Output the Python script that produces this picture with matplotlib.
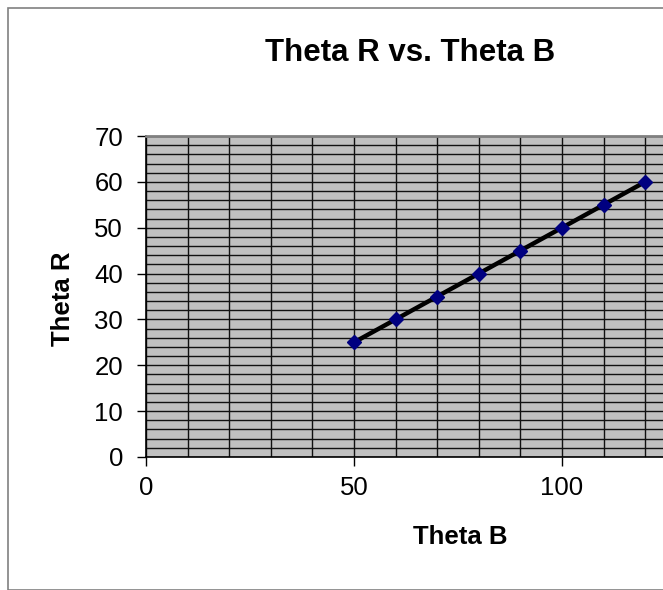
import matplotlib
matplotlib.use("Agg")
import matplotlib.pyplot as plt
from matplotlib.patches import Rectangle
import numpy as np

theta_b = [50, 60, 70, 80, 90, 100, 110, 120]
theta_r = [25, 30, 35, 40, 45, 50, 55, 60]
x_ticks = [0, 50, 100]
y_ticks = [0, 10, 20, 30, 40, 50, 60, 70]

plt.rcParams['font.family'] = ['Liberation Sans', 'DejaVu Sans']

W, H = 663, 590
fig = plt.figure(figsize=(W / 100, H / 100), dpi=100)
fig.patch.set_facecolor('white')

# outer chart border
fig.patches.append(Rectangle((7.5 / W, 0.5 / H), 1.2, (H - 8) / H,
                             transform=fig.transFigure, fill=False,
                             edgecolor='#808080', linewidth=1.2, zorder=0))

left, right, top, bottom = 146, 663, 136, 457
ax = fig.add_axes([left / W, 1 - bottom / H, (right - left) / W, (bottom - top) / H])
ax.set_facecolor('#C0C0C0')

xmax = (right - left) / ((562 - 146) / 100)
ax.set_xlim(0, xmax)
ax.set_ylim(0, 70)

ax.set_xticks(x_ticks)
ax.set_yticks(y_ticks)
ax.set_xticks(np.arange(0, 121, 10), minor=True)
ax.set_yticks(np.arange(0, 71, 2), minor=True)
ax.grid(which='minor', axis='x', color='#111111', linewidth=1.0)
ax.grid(which='minor', axis='y', color='#111111', linewidth=1.0)
ax.grid(which='major', color='#111111', linewidth=1.0)
ax.set_axisbelow(True)

ax.tick_params(which='major', direction='out', length=6.5, width=1, color='black',
               labelsize=18.5)
ax.tick_params(axis='y', pad=10)
ax.tick_params(axis='x', pad=7)
ax.tick_params(which='minor', length=0)

for s in ['left', 'bottom']:
    ax.spines[s].set_color('black')
    ax.spines[s].set_linewidth(1.2)
ax.spines['top'].set_color('#808080')
ax.spines['top'].set_linewidth(2)
ax.spines['right'].set_visible(False)

ax.plot(theta_b, theta_r, color='black', linewidth=3.2, zorder=3,
        marker='D', markersize=7, markerfacecolor='#000080',
        markeredgecolor='#000080', clip_on=False)

fig.text(410 / W, 1 - 53 / H, 'Theta R vs. Theta B', ha='center', va='center',
         fontsize=22.5, fontweight='bold')
fig.text(460 / W, 1 - 537 / H, 'Theta B', ha='center', va='center',
         fontsize=18.5, fontweight='bold')
fig.text(62.5 / W, 1 - 299 / H, 'Theta R', ha='center', va='center',
         fontsize=18.5, fontweight='bold', rotation=90)

fig.savefig('out.png', dpi=100)
